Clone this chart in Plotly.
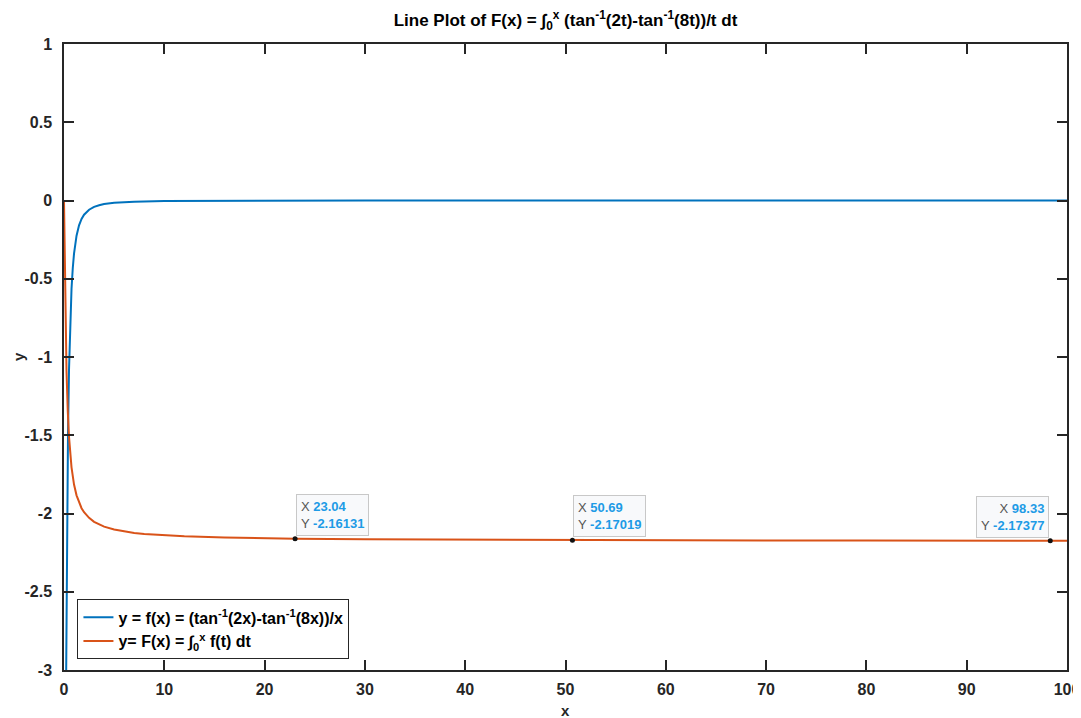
import plotly.graph_objects as go

# ---- data ----
x_f = [0, 0.05, 0.1, 0.15, 0.2, 0.25, 0.3, 0.35, 0.4, 0.5, 0.6, 0.75, 0.875, 1, 1.25, 1.5, 1.75, 2, 2.5, 3, 3.5, 4, 5, 7, 10, 15, 20, 30, 50, 70, 100]
y_f = [-6.0, -5.617, -4.773, -3.897, -3.158, -2.574, -2.119, -1.763, -1.483, -1.082, -0.816, -0.564, -0.431, -0.339, -0.225, -0.159, -0.118, -0.091, -0.059, -0.041, -0.030, -0.023, -0.015, -0.0077, -0.0037, -0.0017, -0.0009, -0.0004, -0.00015, -0.00008, -0.00004]

x_F = [0, 0.03125, 0.0625, 0.125, 0.1875, 0.25, 0.375, 0.5, 0.75, 1, 1.25, 1.5, 1.75, 2, 2.5, 3, 3.5, 4, 5, 6, 7, 8, 10, 12, 16, 20, 23.04, 30, 40, 50.69, 60, 70, 80, 90, 98.33, 100]
y_F = [0, -0.186, -0.362, -0.668, -0.906, -1.089, -1.345, -1.510, -1.705, -1.815, -1.884, -1.931, -1.966, -1.992, -2.028, -2.053, -2.0705, -2.084, -2.1026, -2.115, -2.124, -2.131, -2.140, -2.146, -2.154, -2.159, -2.16131, -2.165, -2.168, -2.17019, -2.1713, -2.1722, -2.1729, -2.1734, -2.17377, -2.1739]

tip_x = [23.04, 50.69, 98.33]
tip_y = [-2.16131, -2.17019, -2.17377]
tip_side = ["left", "left", "right"]

x_ticks = [0, 10, 20, 30, 40, 50, 60, 70, 80, 90, 100]
y_ticks = [-3, -2.5, -2, -1.5, -1, -0.5, 0, 0.5, 1]
y_tick_text = ["-3", "-2.5", "-2", "-1.5", "-1", "-0.5", "0", "0.5", "1"]

BLUE = "#0072BD"
ORANGE = "#D95319"
AX = "#262626"
FONT = "Liberation Sans"
OFF = 8  # page body margin of the html page

fig = go.Figure()
fig.add_trace(go.Scatter(
    x=x_f, y=y_f, mode="lines", line=dict(color=BLUE, width=2),
    name="y = f(x) = (tan<sup>-1</sup>(2x)-tan<sup>-1</sup>(8x))/x"))
fig.add_trace(go.Scatter(
    x=x_F, y=y_F, mode="lines", line=dict(color=ORANGE, width=2),
    name="y= F(x) = ∫<sub>0</sub><sup>x</sup> f(t) dt"))
fig.add_trace(go.Scatter(
    x=tip_x, y=tip_y, mode="markers", showlegend=False,
    marker=dict(color="#111111", size=5)))

for tx, ty, side in zip(tip_x, tip_y, tip_side):
    txt = (f"X <b><span style='color:#1E9BE6'>{tx:.2f}</span></b><br>"
           f"Y <b><span style='color:#1E9BE6'>{ty:.5f}</span></b>")
    fig.add_annotation(
        x=tx, y=ty, xref="x", yref="y", text=txt, showarrow=False,
        xanchor=side, yanchor="bottom", align=side,
        xshift=1 if side == "left" else -1, yshift=3,
        font=dict(family=FONT, size=13, color="#555555", weight="normal"),
        bgcolor="#F8F9FB", bordercolor="#C8C8C8", borderwidth=1, borderpad=4)

# axis titles
fig.add_annotation(text="x", xref="paper", yref="paper", x=0.5, y=0, yshift=-40,
                   xanchor="center", yanchor="middle", showarrow=False,
                   font=dict(family=FONT, size=15, color=AX, weight="bold"))
fig.add_annotation(text="y", xref="paper", yref="paper", x=0, y=0.5, xshift=-46,
                   xanchor="center", yanchor="middle", showarrow=False, textangle=-90,
                   font=dict(family=FONT, size=15, color=AX, weight="bold"))

fig.update_layout(
    width=1081, height=718,
    margin=dict(l=63.5 - OFF, r=13.5 + OFF, t=44.4 - OFF, b=48.4 + OFF, autoexpand=False),
    paper_bgcolor="white", plot_bgcolor="white",
    font=dict(family=FONT, size=16, color=AX, weight="bold"),
    title=dict(
        text="Line Plot of F(x) = ∫<sub>0</sub><sup>x</sup> (tan<sup>-1</sup>(2t)-tan<sup>-1</sup>(8t))/t dt",
        x=0.5, xref="paper", xanchor="center", y=1 - (20 - OFF) / 718, yanchor="middle",
        font=dict(family=FONT, size=17, color="black", weight="bold")),
    showlegend=True,
    legend=dict(
        x=0.0134, y=0.017, xanchor="left", yanchor="bottom",
        bgcolor="white", bordercolor="#262626", borderwidth=1,
        font=dict(family=FONT, size=16, color="black", weight="bold"),
        tracegroupgap=0, itemwidth=30),
)

fig.update_xaxes(
    range=[0, 100], tickvals=x_ticks, ticktext=[str(v) for v in x_ticks],
    showgrid=False, zeroline=False, showline=True, linecolor=AX, linewidth=1.5,
    mirror="allticks", ticks="inside", ticklen=10, tickcolor=AX, tickwidth=1.5,
    ticklabelstandoff=4, automargin=False,
    tickfont=dict(family=FONT, size=16, color=AX, weight="bold"))
fig.update_yaxes(
    range=[-3, 1], tickvals=y_ticks, ticktext=y_tick_text,
    showgrid=False, zeroline=False, showline=True, linecolor=AX, linewidth=1.5,
    mirror="allticks", ticks="inside", ticklen=10, tickcolor=AX, tickwidth=1.5,
    ticklabelstandoff=7, automargin=False,
    tickfont=dict(family=FONT, size=16, color=AX, weight="bold"))

fig.write_html("out.html")
